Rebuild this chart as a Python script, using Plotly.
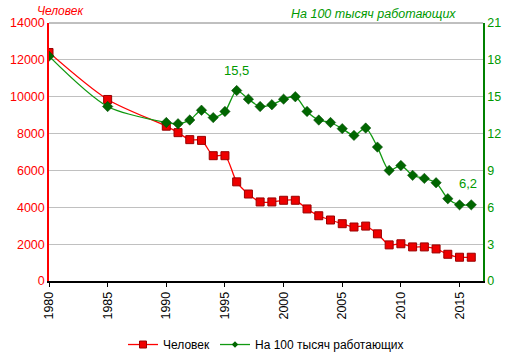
import plotly.graph_objects as go

years = [1980, 1985, 1990, 1991, 1992, 1993, 1994, 1995, 1996, 1997, 1998, 1999,
         2000, 2001, 2002, 2003, 2004, 2005, 2006, 2007, 2008, 2009, 2010, 2011,
         2012, 2013, 2014, 2015, 2016]
people = [12400, 9850, 8400, 8050, 7670, 7630, 6800, 6800, 5380, 4720, 4290, 4290,
          4380, 4380, 3910, 3540, 3310, 3110, 2930, 2980, 2560, 1960, 2020, 1850,
          1850, 1740, 1450, 1290, 1290]
per100k = [18.3, 14.2, 12.9, 12.8, 13.1, 13.9, 13.3, 13.8, 15.5, 14.8, 14.2, 14.35,
           14.8, 15.0, 13.8, 13.1, 12.9, 12.4, 11.85, 12.45, 10.9, 9.0, 9.4, 8.6,
           8.35, 8.0, 6.7, 6.2, 6.2]
left_ticks = [0, 2000, 4000, 6000, 8000, 10000, 12000, 14000]
right_ticks = [0, 3, 6, 9, 12, 15, 18, 21]
x_ticks = [1980, 1985, 1990, 1995, 2000, 2005, 2010, 2015]

RED = "#FF0000"
GREEN = "#008000"
GTEXT = "#009900"
FONT = "Liberation Sans, Arial, sans-serif"

red_line = dict(color=RED, width=1.3, shape="spline", smoothing=0.8)
green_line = dict(color="#119911", width=1.3, shape="spline", smoothing=0.8)

fig = go.Figure()
fig.add_trace(go.Scatter(
    x=years, y=people, name="Человек", mode="lines+markers", showlegend=False,
    line=red_line,
    marker=dict(symbol="square", size=8, color="#EE0000",
                line=dict(color="#990000", width=1)),
    yaxis="y"))
fig.add_trace(go.Scatter(
    x=years, y=per100k, name="На 100 тысяч работающих", mode="lines+markers",
    showlegend=False, line=green_line,
    marker=dict(symbol="diamond", size=8, color="#006600",
                line=dict(color="#004400", width=0.5)),
    yaxis="y2"))
# legend entries (smaller markers as in the reference legend)
fig.add_trace(go.Scatter(
    x=[None], y=[None], name="Человек", mode="lines+markers",
    line=dict(color=RED, width=1.3),
    marker=dict(symbol="square", size=7, color="#EE0000",
                line=dict(color="#990000", width=1))))
fig.add_trace(go.Scatter(
    x=[None], y=[None], name="На 100 тысяч работающих", mode="lines+markers",
    line=dict(color="#119911", width=1.3),
    marker=dict(symbol="diamond", size=5, color="#006600")))

fig.add_annotation(x=1996, y=15.5, yref="y2", text="15,5", showarrow=False,
                   yshift=20, font=dict(color=GTEXT, size=13, family=FONT))
fig.add_annotation(x=2016, y=6.2, yref="y2", text="6,2", showarrow=False,
                   yshift=21, xshift=-3, font=dict(color=GTEXT, size=13, family=FONT))
fig.add_annotation(x=0, y=1, xref="paper", yref="paper", text="<i>Человек</i>",
                   showarrow=False, xanchor="left", yanchor="bottom",
                   xshift=-14, yshift=3, font=dict(color=RED, size=12, family=FONT))
fig.add_annotation(x=0.942, y=1, xref="paper", yref="paper",
                   text="<i>На 100 тысяч работающих</i>", showarrow=False,
                   xanchor="right", yanchor="bottom", yshift=0,
                   font=dict(color=GTEXT, size=12.5, family=FONT))

fig.update_layout(
    width=513, height=357,
    margin=dict(l=49, r=30, t=23, b=76, autoexpand=False),
    paper_bgcolor="white", plot_bgcolor="white",
    font=dict(family=FONT, size=12, color="black"),
    showlegend=True,
    legend=dict(orientation="h", x=0.5, xanchor="center", y=-0.19, yanchor="top",
                font=dict(size=12, color="black"), itemwidth=30),
    xaxis=dict(range=[1980, 2017], tickmode="array", tickvals=x_ticks,
               ticktext=[str(v) for v in x_ticks], tickangle=-90, automargin=False,
               showgrid=False, zeroline=False, showline=True, linecolor="black",
               linewidth=1.5, ticks="outside", ticklen=4, tickcolor="black",
               tickfont=dict(size=12.5, color="black")),
    yaxis=dict(range=[0, 14000], tickmode="array", tickvals=left_ticks,
               ticktext=[str(v) for v in left_ticks], automargin=False,
               showgrid=True, gridcolor="#C0C0C0", gridwidth=1, zeroline=False,
               showline=True, linecolor=RED, linewidth=1.5,
               tickfont=dict(color=RED, size=12.5), ticks=""),
    yaxis2=dict(range=[0, 21], tickmode="array", tickvals=right_ticks,
                ticktext=[str(v) for v in right_ticks], automargin=False,
                overlaying="y", side="right", showgrid=False, zeroline=False,
                showline=True, linecolor=GREEN, linewidth=1.5,
                tickfont=dict(color=GTEXT, size=12.5), ticks=""),
)
fig.add_shape(type="line", xref="paper", yref="paper", x0=0, x1=1, y0=1, y1=1,
              line=dict(color="#808080", width=1))

fig.write_html("out.html", config={"displayModeBar": False},
               post_script="document.body.style.margin='0';document.body.style.overflow='hidden';")
